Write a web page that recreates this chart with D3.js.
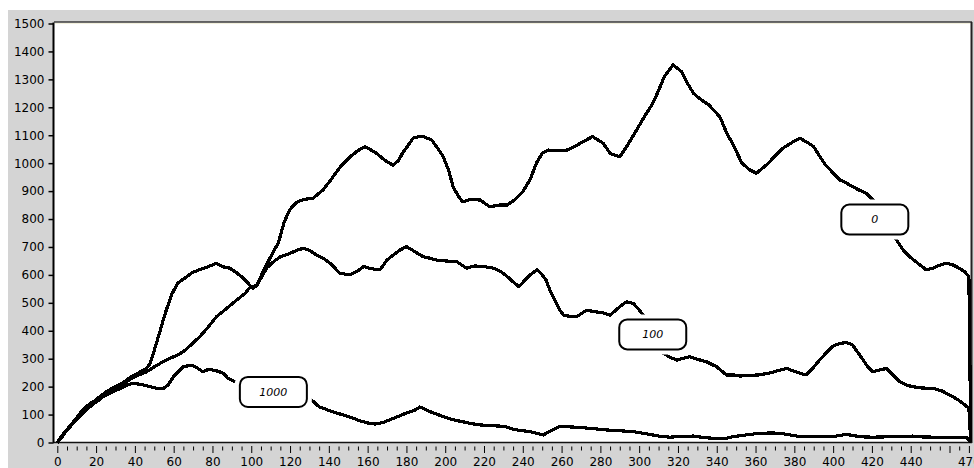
<!DOCTYPE html>
<html>
<head>
<meta charset="utf-8">
<script src="https://cdn.jsdelivr.net/npm/d3@7"></script>
<style>
  html, body { margin: 0; padding: 0; background: #ffffff; }
  svg { display: block; }
  .tick text { font-family: "DejaVu Sans", Verdana, sans-serif; font-size: 12px; fill: #000; }
</style>
</head>
<body>
<svg id="chart" width="974" height="468"></svg>
<script>
// Axis tick values
const yTicks = d3.range(0, 1501, 100);
const xLabelTicks = d3.range(0, 441, 20).concat([470]);
const xMajorTicks = d3.range(0, 461, 20).concat([470]);
const xMinorTicks = d3.range(0, 471, 5).filter(v => !xMajorTicks.includes(v));

// Trace "0": [x, value]
const series0 = [[0,0],[3,30],[6,55],[10,85],[14,115],[18,140],[22,165],[26,185],[30,200],[34,215],[38,235],[42,250],[46,265],[48,285],[50,330],[53,400],[56,470],[59,530],[62,570],[66,590],[70,610],[74,620],[78,630],[82,641],[86,628],[89,624],[92,610],[96,588],[99,565],[101,552],[103,564],[106,610],[110,665],[114,715],[117,790],[120,835],[123.5,860],[127,870],[132,875],[137,904],[141,940],[146,988],[151,1023],[155,1045],[158.6,1059],[161,1050],[164.6,1035],[169,1010],[173,993],[176,1010],[178,1036],[181,1065],[183.5,1090],[188,1097],[193,1083],[196,1055],[199,1023],[202,970],[204,916],[207,880],[209,862],[213,870],[218,868],[223,844],[228,850],[232,850],[236,870],[240,898],[243.7,940],[247,1000],[250,1035],[253,1047],[258,1045],[263,1047],[267,1060],[271,1077],[276,1095],[281.5,1071],[285,1035],[290,1023],[293.5,1059],[298.7,1119],[303,1170],[307,1214],[310,1260],[313,1310],[317.5,1352],[321.8,1328],[324.4,1292],[328,1250],[331,1232],[336,1208],[341.6,1166],[345,1110],[348.5,1065],[353,1000],[357,976],[360.5,964],[365.7,994],[370,1025],[374,1053],[379,1075],[383,1089],[386.5,1075],[390,1059],[393,1025],[396,994],[400,965],[403.5,940],[407,928],[410,916],[413,905],[417,892],[420.6,868],[424,830],[428,775],[432.7,725],[436,690],[439.5,665],[444,640],[448,618],[451.4,624],[455,635],[458.4,642],[462,635],[465,624],[468,610],[470,594],[471,0]];

// Trace "100"
const series100 = [[0,0],[3,28],[6,52],[10,82],[14,110],[18,135],[22,155],[26,178],[30,195],[34,210],[38,228],[42,242],[46,253],[51,275],[56,295],[61,310],[65,325],[69,350],[73.5,379],[78,415],[82,450],[87,478],[92.5,510],[97,535],[99,553],[103,564],[108,625],[112,650],[115,665],[120,677],[124,690],[127,695],[130,688],[133.7,671],[137,660],[140.6,642],[145.7,606],[151,600],[155,615],[158,630],[162,622],[166.3,618],[170,653],[173,670],[176.7,689],[180,701],[184,685],[188.6,665],[192,660],[195.6,653],[200,650],[206,647],[211,624],[215,632],[219.6,630],[225,624],[229,610],[232,594],[235,575],[238,558],[241,580],[243.7,600],[247.4,618],[250,600],[252,582],[254,545],[256.5,510],[259,475],[261,456],[264,452],[267.7,450],[273,474],[277,468],[281,465],[285,456],[290,486],[293.5,504],[297,498],[300,475],[302,456],[305,420],[308,360],[312.4,319],[316,305],[319.3,295],[323,302],[326,307],[330,298],[334.7,289],[340,271],[345,242],[348.5,242],[352,238],[356,240],[362,242],[368,250],[372,258],[376,265],[380,255],[383,248],[386,242],[390,270],[393,295],[397,325],[400,345],[403.5,355],[407,358],[410,349],[413,320],[415.5,295],[418,270],[420.6,253],[424,260],[427.5,265],[431,240],[434.4,218],[438,205],[441,200],[446,195],[451.5,194],[456,185],[460,170],[464,155],[467,140],[470,122],[471,0]];

// Trace "1000"
const series1000 = [[0,0],[2,15],[5,45],[9,80],[13.4,120],[17,140],[20,152],[23.7,164],[28,180],[32,192],[36,205],[39,212],[43,208],[47.8,200],[51,194],[54.8,194],[57,205],[60,236],[63,258],[65,271],[69,277],[72,268],[75,253],[78,262],[80.4,259],[83,255],[85.6,247],[88,230],[91.6,218],[95,205],[100,195],[105,188],[110,180],[115,175],[120,172],[125,165],[130,159],[135,128],[140,115],[144,105],[148,98],[152,88],[156,78],[160,70],[164,66],[168,72],[171,80],[174,88],[178,100],[181,108],[184.4,116],[187,127],[190,118],[193,108],[197,98],[201,88],[205,80],[210,73],[214,67],[218,63],[223,60],[228,59],[232,55],[235,47],[239,43],[243.7,39],[247,33],[250.5,27],[254,40],[259,57],[264,56],[269,54],[276,50],[283,45],[290,42],[297,39],[302,33],[307,27],[311,22],[316,19],[322,22],[328,23],[333,18],[338,15],[345,15],[348.5,21],[355,27],[362,33],[368,34],[372.5,33],[378,27],[383,21],[390,21],[395,20],[400,21],[404,26],[407,29],[411,24],[416,20],[420.6,19],[426,20],[432,22],[437,22],[441,23],[446,20],[452,19],[458,19],[463,18],[468.7,19],[471,0]];

// Trace tags: name and anchor position in data units
const tagNames = ["0", "100", "1000"];
const tagX = [421.5, 307, 111.4];
const tagY = [798, 387, 181];

const svg = d3.select("#chart");

const x = d3.scaleLinear().domain([0, 471.6]).range([57.3, 972]);
const y = d3.scaleLinear().domain([0, 1500]).range([442.5, 23.5]);

// Panel background
svg.append("rect").attr("x", 8).attr("y", 10).attr("width", 966).attr("height", 458).attr("fill", "#d4d4d4");

// Plot area
svg.append("rect").attr("x", 54).attr("y", 22).attr("width", 918).attr("height", 421).attr("fill", "#ffffff");
svg.append("line").attr("x1", 54).attr("x2", 972).attr("y1", 22).attr("y2", 22).attr("stroke", "#3a3a3a").attr("stroke-width", 1.5);
svg.append("line").attr("x1", 55).attr("x2", 970).attr("y1", 23.5).attr("y2", 23.5).attr("stroke", "#f2f0dc").attr("stroke-width", 1);
svg.append("line").attr("x1", 971.5).attr("x2", 971.5).attr("y1", 22).attr("y2", 443).attr("stroke", "#222").attr("stroke-width", 2);
svg.append("line").attr("x1", 53).attr("x2", 972).attr("y1", 442.5).attr("y2", 442.5).attr("stroke", "#111").attr("stroke-width", 1.5);

// Y axis
const yAxis = d3.axisLeft(y).tickValues(yTicks).tickSizeInner(5).tickSizeOuter(0).tickPadding(4).tickFormat(d3.format("d"));
const gy = svg.append("g").attr("transform", "translate(53.5,0)").call(yAxis);
gy.select(".domain").attr("stroke", "#000").attr("stroke-width", 2).attr("d", `M0,${y(1500) - 1}V${y(0)}`);
gy.selectAll(".tick line").attr("stroke", "#000").attr("stroke-width", 1.5);

// X axis: minor ticks, major ticks, labels
const gxMinor = svg.append("g").attr("transform", "translate(0,446.5)")
  .call(d3.axisBottom(x).tickValues(xMinorTicks).tickSizeInner(4).tickSizeOuter(0).tickFormat(""));
gxMinor.select(".domain").remove();
gxMinor.selectAll(".tick line").attr("stroke", "#000").attr("stroke-width", 1);

const gxMajor = svg.append("g").attr("transform", "translate(0,446)")
  .call(d3.axisBottom(x).tickValues(xMajorTicks).tickSizeInner(7).tickSizeOuter(0).tickFormat(""));
gxMajor.select(".domain").remove();
gxMajor.selectAll(".tick line").attr("stroke", "#000").attr("stroke-width", 1);

const gxLabels = svg.append("g").attr("transform", "translate(0,446)")
  .call(d3.axisBottom(x).tickValues(xLabelTicks).tickSizeInner(7).tickSizeOuter(0).tickPadding(4).tickFormat(d3.format("d")));
gxLabels.select(".domain").remove();
gxLabels.selectAll(".tick line").remove();

// Traces
const line = d3.line().x(d => x(d[0])).y(d => y(d[1])).curve(d3.curveLinear);
const traces = svg.append("g");
[series0, series100, series1000].forEach(s => {
  traces.append("path").datum(s)
    .attr("d", line)
    .attr("fill", "none")
    .attr("stroke", "#000")
    .attr("stroke-width", 3.2)
    .attr("stroke-linejoin", "round")
    .attr("shape-rendering", "crispEdges");
});

// Trace tags
const tagW = 67, tagH = 30;
const tags = svg.append("g");
tagNames.forEach((name, i) => {
  const cx = x(tagX[i]), cy = y(tagY[i]);
  tags.append("rect")
    .attr("x", cx - tagW / 2 - 5).attr("y", cy - tagH / 2 - 5)
    .attr("width", tagW + 10).attr("height", tagH + 10)
    .attr("rx", 12).attr("fill", "#ffffff");
  tags.append("rect")
    .attr("x", cx - tagW / 2).attr("y", cy - tagH / 2)
    .attr("width", tagW).attr("height", tagH)
    .attr("rx", 8).attr("fill", "#ffffff")
    .attr("stroke", "#000").attr("stroke-width", 2);
  tags.append("text")
    .attr("x", cx).attr("y", cy).attr("dy", "0.35em")
    .attr("text-anchor", "middle")
    .attr("font-family", "'DejaVu Sans', sans-serif")
    .attr("font-style", "italic")
    .attr("font-size", 11)
    .attr("fill", "#000")
    .text(name);
});
</script>
</body>
</html>
